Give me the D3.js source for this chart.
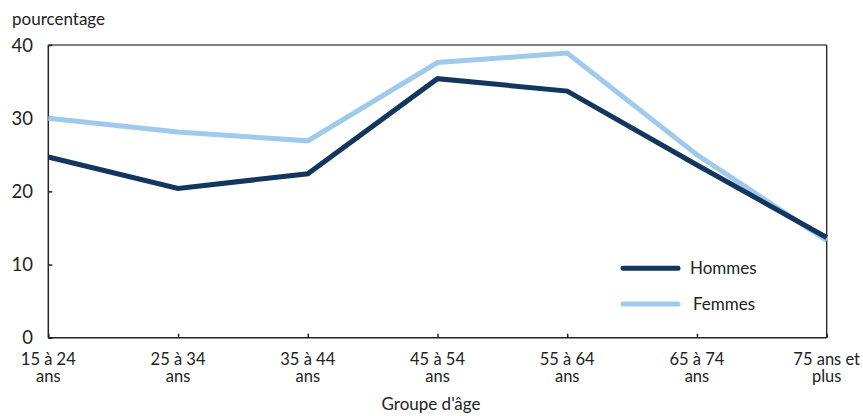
<!DOCTYPE html>
<html><head><meta charset="utf-8">
<script src="https://cdn.jsdelivr.net/npm/d3@7/dist/d3.min.js"></script>
<style>
body{margin:0;background:#fff;}
text{font-family:Lato,"Open Sans",sans-serif;fill:#222;}
</style></head>
<body><svg id="c" width="863" height="416"></svg>
<script>
const categories = [["15 à 24","ans"],["25 à 34","ans"],["35 à 44","ans"],["45 à 54","ans"],["55 à 64","ans"],["65 à 74","ans"],["75 ans et","plus"]];
const hommes = [24.7, 20.4, 22.4, 35.4, 33.7, 23.6, 13.7];
const femmes = [30.0, 28.1, 26.9, 37.6, 38.9, 25.0, 13.3];
const yTicks = [0, 10, 20, 30, 40];
const seriesNames = ["Hommes", "Femmes"];
const colors = ["#12365e", "#9fcaec"];

const svg = d3.select("#c");
const L = 48.3, R = 826.7, T = 45, B = 337.7;
const x = d3.scalePoint().domain(d3.range(categories.length)).range([L, R]);
const y = d3.scaleLinear().domain([0, 40]).range([B, T]);

// frame top & right
svg.append("line").attr("x1", L).attr("x2", R).attr("y1", T).attr("y2", T).attr("stroke", "#555").attr("stroke-width", 1.3);
svg.append("line").attr("x1", R).attr("x2", R).attr("y1", T).attr("y2", B).attr("stroke", "#222").attr("stroke-width", 1.3);

// y axis
const yAxis = svg.append("g").attr("transform", `translate(${L},0)`)
  .call(d3.axisRight(y).tickValues(yTicks).tickSize(4).tickFormat(""));
yAxis.selectAll("path,line").attr("stroke", "#222").attr("stroke-width", 1.5);
yAxis.select(".domain").attr("d", `M0,${T}V${B}`);
svg.selectAll(".ylab").data(yTicks).enter().append("text")
  .attr("x", 33).attr("y", d => y(d) + 6.5).attr("text-anchor", "end")
  .attr("font-size", 18.5).text(d => d);

// x axis
const xAxis = svg.append("g").attr("transform", `translate(0,${B})`)
  .call(d3.axisTop(x).tickSize(4).tickFormat(""));
xAxis.selectAll("path,line").attr("stroke", "#222").attr("stroke-width", 1.5);
xAxis.select(".domain").attr("d", `M${L},0H${R}`);
[0, 1].forEach(li => {
  svg.selectAll(".xlab" + li).data(categories).enter().append("text")
    .attr("text-anchor", "middle").attr("font-size", 16.5)
    .attr("x", (d, i) => x(i)).attr("y", li === 0 ? 364.5 : 381.5)
    .text(d => d[li]);
});

svg.append("text").attr("x", 431).attr("y", 410).attr("text-anchor", "middle").attr("font-size", 17).text("Groupe d'âge");
svg.append("text").attr("x", 12).attr("y", 25).attr("font-size", 17).text("pourcentage");

// lines
const line = d3.line().x((d, i) => x(i)).y(d => y(d));
[femmes, hommes].forEach((s, k) => {
  svg.append("path").datum(s).attr("d", line).attr("fill", "none")
    .attr("stroke", k === 0 ? colors[1] : colors[0]).attr("stroke-width", 5)
    .attr("stroke-linejoin", "miter");
});

// legend
const legY = [268.3, 304];
const legTX = [690, 693];
seriesNames.forEach((n, i) => {
  svg.append("line").attr("x1", 623).attr("x2", 678).attr("y1", legY[i]).attr("y2", legY[i])
    .attr("stroke", colors[i]).attr("stroke-width", 5).attr("stroke-linecap", "round");
  svg.append("text").attr("x", legTX[i]).attr("y", legY[i] + 6).attr("font-size", 17).text(n);
});
</script></body></html>
